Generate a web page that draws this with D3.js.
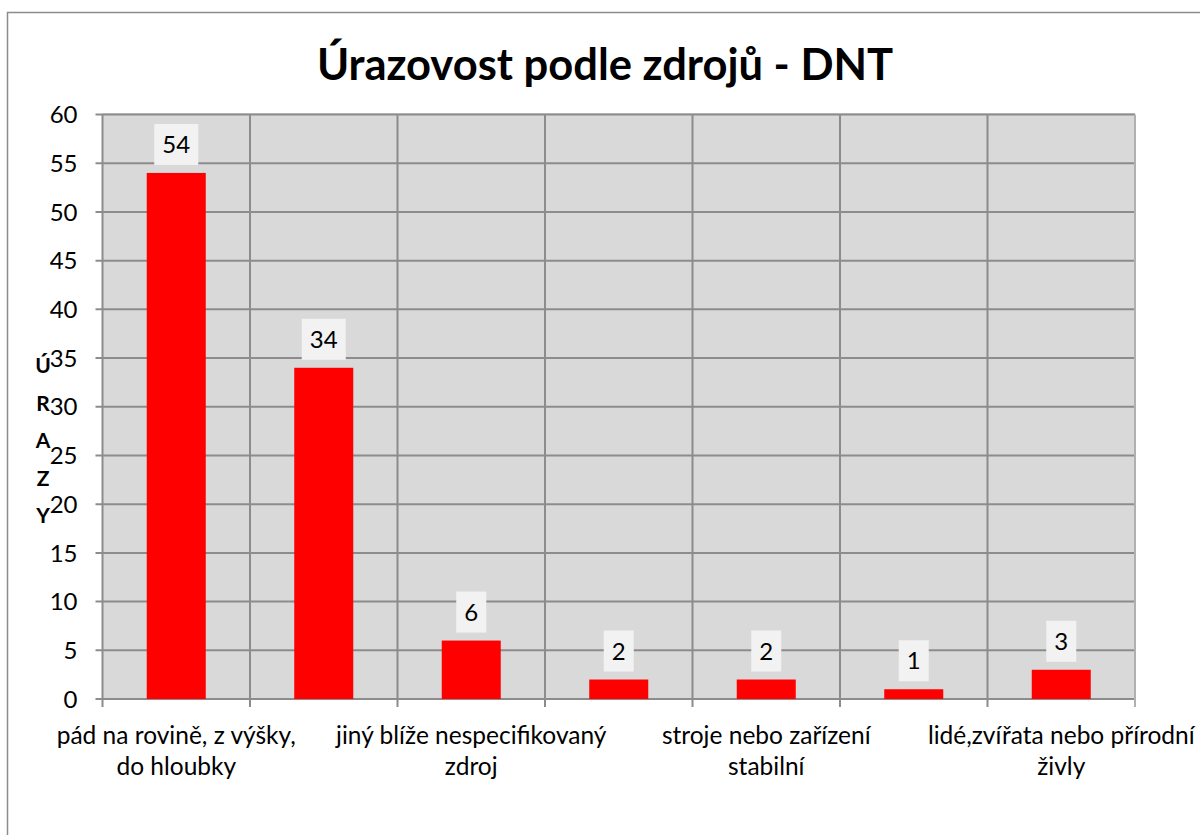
<!DOCTYPE html>
<html>
<head>
<meta charset="utf-8">
<script src="https://cdn.jsdelivr.net/npm/d3@7"></script>
<style>
  body { margin: 0; background: #fff; }
  svg { font-family: Lato, "Open Sans", sans-serif; }
</style>
</head>
<body>
<svg width="1200" height="835"></svg>
<script>
// data (only every other category label is visible)
var categories = [
  "pád na rovině, z výšky,\ndo hloubky",
  "materiál, břemena, předměty",
  "jiný blíže nespecifikovaný\nzdroj",
  "nástroje, přístroje, nářadí",
  "stroje nebo zařízení\nstabilní",
  "dopravní prostředky",
  "lidé,zvířata nebo přírodní\nživly"
];
var values = [54, 34, 6, 2, 2, 1, 3];
var yTicks = [0, 5, 10, 15, 20, 25, 30, 35, 40, 45, 50, 55, 60];
var title = "Úrazovost podle zdrojů - DNT";
var yTitle = ["Ú", "R", "A", "Z", "Y"];

var svgWidth = 1200;
var svgHeight = 835;
var margin = { top: 114.5, right: 65, bottom: 136, left: 102.5 };
var chartWidth = svgWidth - margin.left - margin.right;
var chartHeight = svgHeight - margin.top - margin.bottom;

var svg = d3.select("svg");

// outer chart border
svg.append("rect")
  .attr("x", 7.5).attr("y", 12.5)
  .attr("width", 1250).attr("height", 900)
  .attr("fill", "none")
  .attr("stroke", "#8c8c8c")
  .attr("stroke-width", 1.5);

svg.append("text")
  .attr("x", 605).attr("y", 80)
  .attr("text-anchor", "middle")
  .attr("font-size", 43.5)
  .attr("font-weight", "bold")
  .attr("fill", "#000")
  .text(title);

var chartGroup = svg.append("g")
  .attr("transform", `translate(${margin.left}, ${margin.top})`);

var xBand = d3.scaleBand()
  .domain(d3.range(categories.length))
  .range([0, chartWidth])
  .paddingInner(0)
  .paddingOuter(0);

var yLinear = d3.scaleLinear()
  .domain([0, 60])
  .range([chartHeight, 0]);

// plot background
chartGroup.append("rect")
  .attr("x", 0).attr("y", -1.5)
  .attr("width", chartWidth).attr("height", chartHeight + 1.5)
  .attr("fill", "#d9d9d9");

// horizontal gridlines
chartGroup.selectAll(".hgrid")
  .data(yTicks)
  .enter()
  .append("line")
  .attr("x1", -7).attr("x2", chartWidth)
  .attr("y1", d => yLinear(d)).attr("y2", d => yLinear(d))
  .attr("stroke", "#8c8c8c")
  .attr("stroke-width", 2);

// vertical gridlines at category boundaries
var bounds = d3.range(categories.length + 1).map(i => i * xBand.step());
chartGroup.selectAll(".vgrid")
  .data(bounds)
  .enter()
  .append("line")
  .attr("x1", d => d).attr("x2", d => d)
  .attr("y1", 0).attr("y2", chartHeight + 8)
  .attr("stroke", d => d == chartWidth ? "#b0b0b0" : "#8c8c8c")
  .attr("stroke-width", 2);

// y tick labels
chartGroup.selectAll(".ylab")
  .data(yTicks)
  .enter()
  .append("text")
  .attr("x", -25)
  .attr("y", d => yLinear(d))
  .attr("dy", "0.36em")
  .attr("text-anchor", "end")
  .attr("font-size", 24)
  .attr("fill", "#000")
  .text(d => d);

// bars
var barW = xBand.step() / 2.5;
chartGroup.selectAll(".bar")
  .data(values)
  .enter()
  .append("rect")
  .attr("x", (d, i) => xBand(i) + (xBand.step() - barW) / 2)
  .attr("y", d => yLinear(d))
  .attr("width", barW)
  .attr("height", d => chartHeight - yLinear(d))
  .attr("fill", "#ff0000");

// data labels with light boxes
var lab = chartGroup.selectAll(".lab")
  .data(values)
  .enter()
  .append("g")
  .attr("transform", (d, i) => `translate(${xBand(i) + xBand.step() / 2}, ${yLinear(d) - 8})`);

lab.append("rect")
  .attr("x", d => String(d).length > 1 ? -22 : -15)
  .attr("y", -41)
  .attr("width", d => String(d).length > 1 ? 44 : 30)
  .attr("height", 41)
  .attr("fill", "#f2f2f2");

lab.append("text")
  .attr("y", -12)
  .attr("text-anchor", "middle")
  .attr("font-size", 24)
  .attr("fill", "#000")
  .text(d => d);

// x labels, every other category like the original
var xl = chartGroup.selectAll(".xlab")
  .data(categories.map((c, i) => ({ c: c, i: i })).filter(d => d.i % 2 == 0))
  .enter()
  .append("text")
  .attr("text-anchor", "middle")
  .attr("font-size", 24.5)
  .attr("fill", "#000")
  .attr("transform", d => `translate(${xBand(d.i) + xBand.step() / 2}, ${chartHeight + 45})`);

xl.selectAll("tspan")
  .data(d => d.c.split("\n"))
  .enter()
  .append("tspan")
  .attr("x", 0)
  .attr("dy", (d, j) => j == 0 ? 0 : 31)
  .text(d => d);

// stacked axis title
svg.selectAll(".ytitle")
  .data(yTitle)
  .enter()
  .append("text")
  .attr("x", 43)
  .attr("y", (d, i) => 373 + i * 37.5)
  .attr("text-anchor", "middle")
  .attr("font-size", 21)
  .attr("font-weight", "bold")
  .attr("fill", "#000")
  .text(d => d);
</script>
</body>
</html>
